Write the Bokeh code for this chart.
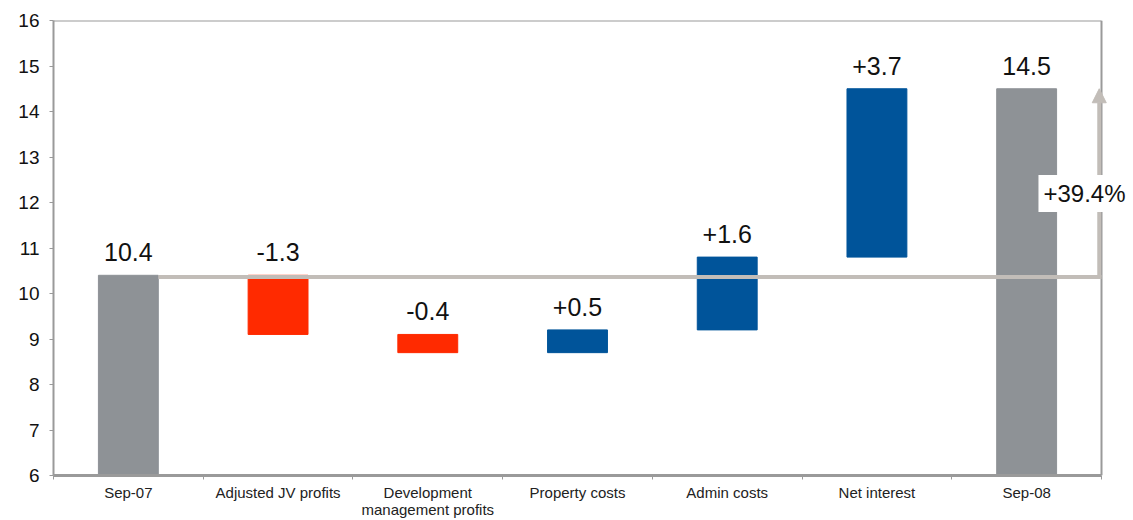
from bokeh.plotting import figure
from bokeh.models import ColumnDataSource, FixedTicker, Arrow, NormalHead, Label
from bokeh.embed import file_html
from bokeh.resources import INLINE
from bokeh.core.properties import value

categories = ["Sep-07", "Adjusted JV profits", "Development\nmanagement profits",
              "Property costs", "Admin costs", "Net interest", "Sep-08"]
start_value = 10.4
changes = [-1.3, -0.4, 0.5, 1.6, 3.7]
end_value = 14.5
value_labels = ["10.4", "-1.3", "-0.4", "+0.5", "+1.6", "+3.7", "14.5"]
growth_label = "+39.4%"
base_line_value = 10.36
y_ticks = list(range(6, 17))
y_min, y_max = 6, 16

GREY = "#8e9296"
RED = "#ff2a00"
BLUE = "#00549a"
FRAME = "#9a9a9a"
LIGHT = "#c2bdb8"

# build waterfall
xs = list(range(len(categories)))
bottoms, tops, colors = [], [], []
bottoms.append(0); tops.append(start_value); colors.append(GREY)
run = start_value
for c in changes:
    new = round(run + c, 2)
    bottoms.append(min(run, new)); tops.append(max(run, new))
    colors.append(RED if c < 0 else BLUE)
    run = new
bottoms.append(0); tops.append(end_value); colors.append(GREY)

src = ColumnDataSource(dict(x=xs, bottom=bottoms, top=tops, color=colors,
                            label=value_labels))

x_lo, x_hi = -0.5, len(categories) - 0.5
cat_px = 1048 / len(categories)
x_ext = x_hi + 32 / cat_px   # extra room to the right so the % label is not clipped

p = figure(width=1133, height=520, x_range=(x_lo, x_ext), y_range=(y_min, y_max),
           output_backend="svg", toolbar_location=None,
           min_border_left=53, min_border_right=0, min_border_top=20, min_border_bottom=45)
p.background_fill_color = "white"
p.border_fill_color = "white"
p.outline_line_color = None
p.xgrid.visible = False
p.ygrid.visible = False

# chart box (top and right edges)
p.segment(x0=[x_lo, x_hi], y0=[y_max, y_min], x1=[x_hi, x_hi], y1=[y_max, y_max],
          line_color=FRAME, line_width=2)

p.vbar(x="x", bottom="bottom", top="top", width=0.4, color="color", source=src)

# baseline line
p.segment(x0=[0.2], y0=[base_line_value], x1=[x_hi], y1=[base_line_value],
          line_color=LIGHT, line_width=4)

# arrow
p.add_layout(Arrow(x_start=x_hi - 0.015, y_start=base_line_value,
                   x_end=x_hi - 0.015, y_end=end_value,
                   line_color=LIGHT, line_width=4,
                   end=NormalHead(size=14, fill_color=LIGHT, line_color=LIGHT)))

p.add_layout(Label(x=x_hi, y=12.2, x_offset=-17, text=growth_label, text_align="center",
                   text_baseline="middle", text_font="Liberation Sans",
                   text_font_size="24px", text_color="#111111",
                   background_fill_color="white", background_fill_alpha=1.0,
                   padding=5))

p.text(x="x", y="top", text="label", source=src, text_align="center",
       text_baseline="alphabetic", y_offset=-23, text_font=value("Liberation Sans"),
       text_font_size="25px", text_color="#111111")

# axes
p.xaxis.bounds = (x_lo, x_hi)
p.xaxis.ticker = FixedTicker(ticks=xs, minor_ticks=[i + 0.5 for i in range(-1, len(categories))])
p.xaxis.major_label_overrides = {i: c for i, c in enumerate(categories)}
p.xaxis.major_tick_line_color = None
p.xaxis.major_tick_out = 0
p.xaxis.major_tick_in = 0
p.xaxis.minor_tick_line_color = FRAME
p.xaxis.minor_tick_out = 4
p.xaxis.minor_tick_in = 0
p.xaxis.axis_line_color = FRAME
p.xaxis.axis_line_width = 3
p.xaxis.major_label_text_font = "Liberation Sans"
p.xaxis.major_label_text_font_size = "15px"
p.xaxis.major_label_text_line_height = 1.0
p.xaxis.major_label_text_color = "#222222"
p.xaxis.major_label_standoff = 4

p.yaxis.ticker = FixedTicker(ticks=y_ticks)
p.yaxis.minor_tick_line_color = None
p.yaxis.major_tick_line_color = FRAME
p.yaxis.major_tick_out = 4
p.yaxis.major_tick_in = 0
p.yaxis.axis_line_color = FRAME
p.yaxis.axis_line_width = 2
p.yaxis.major_label_text_font = "Liberation Sans"
p.yaxis.major_label_text_font_size = "19px"
p.yaxis.major_label_text_color = "#111111"
p.yaxis.major_label_standoff = 10

open("out.html", "w").write(file_html(p, INLINE))
